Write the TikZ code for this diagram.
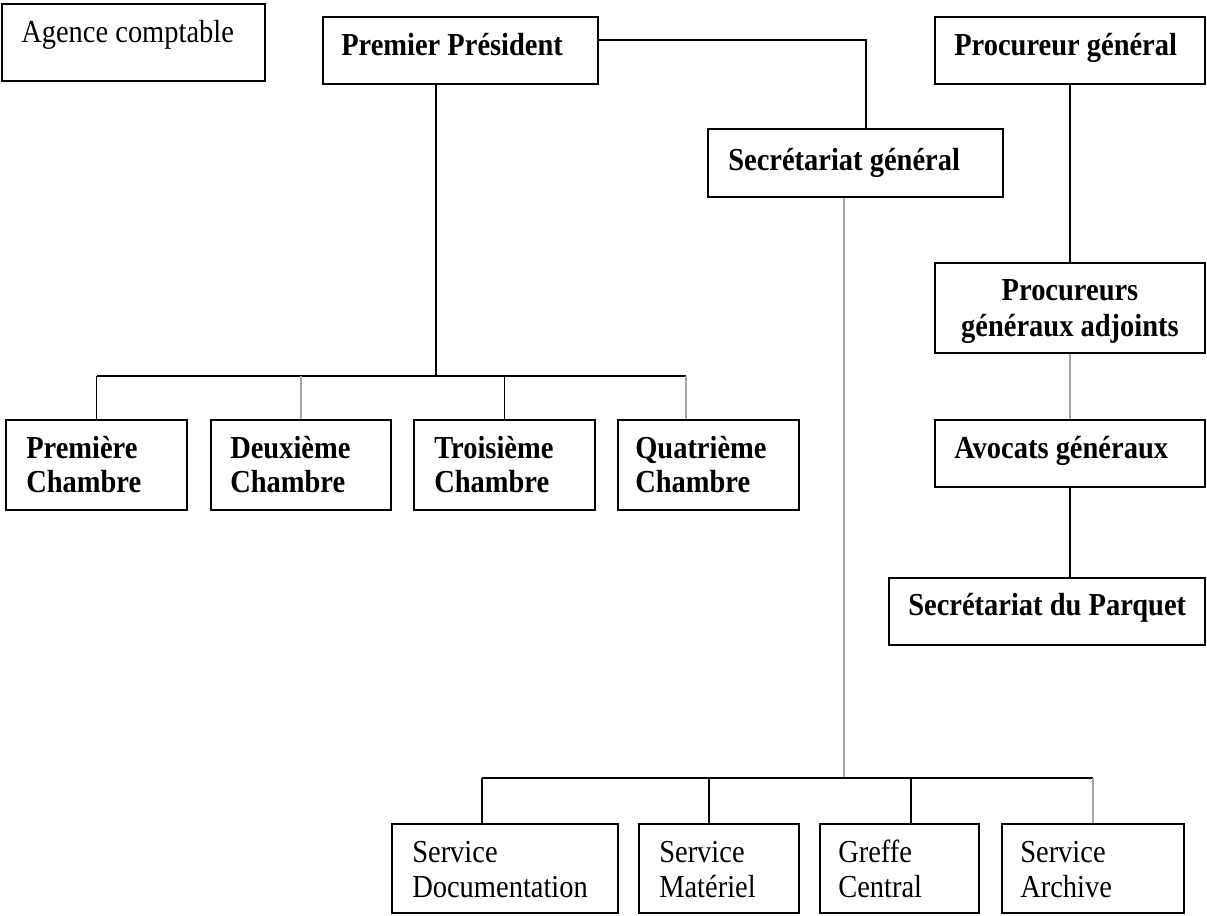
\documentclass[tikz,border=0pt]{standalone}
\usepackage{fontspec}
\setmainfont{Liberation Serif}[FakeStretch=0.89]
\usetikzlibrary{fit}
\begin{document}
\begin{tikzpicture}[x=0.75pt,y=-0.75pt,
  bx/.style={draw, line width=1.2pt, inner sep=0pt},
  cn/.style={line width=1.1pt, draw=black},
  gcn/.style={line width=1.1pt, draw=gray!70},
  tr/.style={inner sep=0pt, anchor=base west, font=\fontsize{24pt}{28pt}\selectfont},
  tb/.style={inner sep=0pt, anchor=base west, font=\fontsize{24pt}{28pt}\selectfont\bfseries}]
\useasboundingbox (0,0) rectangle (1207,915);

% boxes
\node[bx, fit={(2,4) (265,81)}] (ag) {};
\node[bx, fit={(323,17) (598,84)}] (pp) {};
\node[bx, fit={(935,17) (1205,84)}] (pg) {};
\node[bx, fit={(708,129) (1003,197)}] (sg) {};
\node[bx, fit={(935,263) (1205,353)}] (pga) {};
\node[bx, fit={(935,420) (1205,487)}] (av) {};
\node[bx, fit={(889,578) (1205,645)}] (sp) {};
\node[bx, fit={(6,420) (187,510)}] (c1) {};
\node[bx, fit={(211,420) (391,510)}] (c2) {};
\node[bx, fit={(414,420) (595,510)}] (c3) {};
\node[bx, fit={(618,420) (799,510)}] (c4) {};
\node[bx, fit={(392,824) (618,913)}] (s1) {};
\node[bx, fit={(639,824) (799,913)}] (s2) {};
\node[bx, fit={(820,824) (979,913)}] (s3) {};
\node[bx, fit={(1002,824) (1184,913)}] (s4) {};

% texts
\node[tr] (agt) at (21,42) {Agence comptable};
\node[tb] (ppt) at (341,55) {Premier Président};
\node[tb] (pgt) at (954,55) {Procureur général};
\node[tb] (sgt) at (728,170) {Secrétariat général};
\node[tb, anchor=base] (pgat1) at (1070,300) {Procureurs};
\node[tb, anchor=base] (pgat2) at (1070,336) {généraux adjoints};
\node[tb] (avt) at (954,458) {Avocats généraux};
\node[tb] (spt) at (908,615) {Secrétariat du Parquet};
\node[tb] (c1a) at (26,458) {Première};
\node[tb] (c1b) at (26,492) {Chambre};
\node[tb] (c2a) at (230,458) {Deuxième};
\node[tb] (c2b) at (230,492) {Chambre};
\node[tb] (c3a) at (434,458) {Troisième};
\node[tb] (c3b) at (434,492) {Chambre};
\node[tb] (c4a) at (635,458) {Quatrième};
\node[tb] (c4b) at (635,492) {Chambre};
\node[tr] (s1a) at (412,862) {Service};
\node[tr] (s1b) at (412,897) {Documentation};
\node[tr] (s2a) at (659,862) {Service};
\node[tr] (s2b) at (659,897) {Matériel};
\node[tr] (s3a) at (838,862) {Greffe};
\node[tr] (s3b) at (838,897) {Central};
\node[tr] (s4a) at (1020,862) {Service};
\node[tr] (s4b) at (1020,897) {Archive};

% connectors
\coordinate (k1) at (866,40);
\draw[cn] (pp.east |- k1) -- (k1) -- (k1 |- sg.north);

\coordinate (b1) at (436,376);
\coordinate (d4) at (686,376);
\draw[cn] (b1 |- pp.south) -- (b1);
\draw[cn] (c1.north |- b1) -- (d4);
\draw[cn] (c1.north |- b1) -- (c1.north);
\draw[gcn] (c2.north |- b1) -- (c2.north);
\draw[cn] (c3.north |- b1) -- (c3.north);
\draw[gcn] (d4) -- (d4 |- c4.north);

\coordinate (b2) at (844,778);
\coordinate (e1) at (482,778);
\coordinate (e2) at (709,778);
\coordinate (e3) at (911,778);
\draw[gcn] (b2 |- sg.south) -- (b2);
\draw[cn] (e1) -- (s4.north |- b2);
\draw[cn] (e1) -- (e1 |- s1.north);
\draw[cn] (e2) -- (e2 |- s2.north);
\draw[cn] (e3) -- (e3 |- s3.north);
\draw[gcn] (s4.north |- b2) -- (s4.north);

\draw[cn] (pg.south) -- (pga.north);
\draw[gcn] (pga.south) -- (av.north);
\draw[cn] (av.south) -- (av.south |- sp.north);
\end{tikzpicture}
\end{document}
